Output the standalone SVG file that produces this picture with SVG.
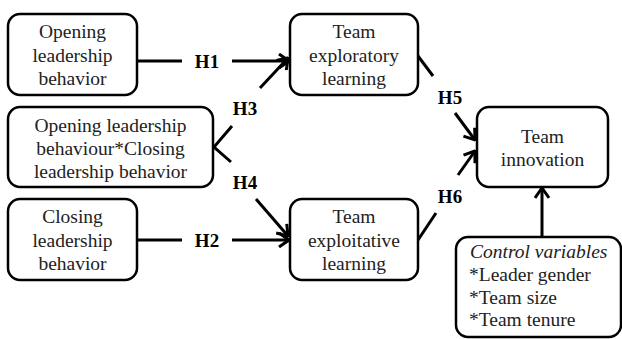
<svg xmlns="http://www.w3.org/2000/svg" width="622" height="339" viewBox="0 0 622 339">
<defs>
<style>
text{font-family:"Liberation Serif","DejaVu Serif",serif}
.box{fill:#fff;stroke:#000;stroke-width:2.5}
.t{font-size:19.5px;fill:#222;text-anchor:middle}
.h{font-size:19px;font-weight:bold;fill:#000;text-anchor:middle}
.c{fill:none;stroke:#000;stroke-width:3}
</style>
<marker id="ah" viewBox="0 0 12 16" refX="11" refY="8" markerWidth="12" markerHeight="16" markerUnits="userSpaceOnUse" orient="auto">
<path d="M1,1 L11,8 L1,15" fill="none" stroke="#000" stroke-width="3"/>
</marker>
</defs>
<rect width="622" height="339" fill="#fff"/>
<g id="connectors">
<path class="c" d="M137,61 H182"/>
<path class="c" d="M232,61 H289" marker-end="url(#ah)"/>
<path class="c" d="M137,240 H182"/>
<path class="c" d="M232,240 H289" marker-end="url(#ah)"/>
<path class="c" d="M232,126 L214,147 L231,162"/>
<path class="c" d="M260,88 L288,58" marker-end="url(#ah)"/>
<path class="c" d="M256,199 L288,236" marker-end="url(#ah)"/>
<path class="c" d="M418,56 L433,76"/>
<path class="c" d="M455,113 L475,140" marker-end="url(#ah)"/>
<path class="c" d="M418,240 L436,213"/>
<path class="c" d="M458,175 L475,151" marker-end="url(#ah)"/>
<path class="c" d="M542,237 V188" marker-end="url(#ah)"/>
</g>
<g id="labels">
<text class="h" x="207" y="68">H1</text>
<text class="h" x="207" y="247">H2</text>
<text class="h" x="245" y="115">H3</text>
<text class="h" x="245" y="189">H4</text>
<text class="h" x="450" y="104">H5</text>
<text class="h" x="450" y="203">H6</text>
</g>
<g id="opening">
<rect class="box" x="8" y="14" width="129" height="81" rx="12"/>
<text class="t" x="72.5" y="38">Opening</text>
<text class="t" x="72.5" y="61.5">leadership</text>
<text class="t" x="72.5" y="85">behavior</text>
</g>
<g id="interaction">
<rect class="box" x="8" y="107" width="205" height="80" rx="12"/>
<text class="t" x="110.5" y="131.5">Opening leadership</text>
<text class="t" x="110.5" y="154.5">behaviour*Closing</text>
<text class="t" x="110.5" y="177.5">leadership behavior</text>
</g>
<g id="closing">
<rect class="box" x="8" y="199" width="129" height="81" rx="12"/>
<text class="t" x="72.5" y="223">Closing</text>
<text class="t" x="72.5" y="246.5">leadership</text>
<text class="t" x="72.5" y="270">behavior</text>
</g>
<g id="exploratory">
<rect class="box" x="290" y="14" width="128" height="81" rx="12"/>
<text class="t" x="354" y="38">Team</text>
<text class="t" x="354" y="61.5">exploratory</text>
<text class="t" x="354" y="85">learning</text>
</g>
<g id="exploitative">
<rect class="box" x="290" y="199" width="128" height="81" rx="12"/>
<text class="t" x="354" y="223">Team</text>
<text class="t" x="354" y="246.5">exploitative</text>
<text class="t" x="354" y="270">learning</text>
</g>
<g id="innovation">
<rect class="box" x="477" y="107" width="131" height="80" rx="12"/>
<text class="t" x="542.5" y="143">Team</text>
<text class="t" x="542.5" y="165.5">innovation</text>
</g>
<g id="controls">
<rect class="box" x="456" y="237" width="165" height="100" rx="12"/>
<text class="t" x="470" y="258" style="text-anchor:start;font-style:italic">Control variables</text>
<text class="t" x="469" y="281" style="text-anchor:start">*Leader gender</text>
<text class="t" x="469" y="303.5" style="text-anchor:start">*Team size</text>
<text class="t" x="469" y="326" style="text-anchor:start">*Team tenure</text>
</g>
</svg>
